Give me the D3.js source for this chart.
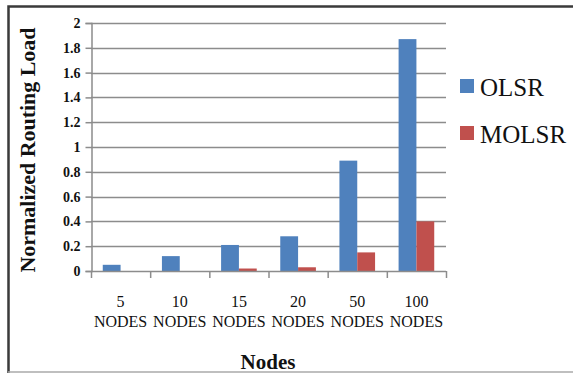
<!DOCTYPE html>
<html>
<head>
<meta charset="utf-8">
<script src="https://cdn.jsdelivr.net/npm/d3@7"></script>
<style>
  html, body { margin: 0; padding: 0; background: #fff; }
  svg { display: block; }
  text { font-family: "Liberation Serif", "Times New Roman", serif; fill: #111; }
</style>
</head>
<body>
<svg id="chart" width="573" height="373"></svg>
<script>
// Normalized routing load per network size
const categories = ["5", "10", "15", "20", "50", "100"];
const seriesNames = ["OLSR", "MOLSR"];
const olsrValues = [0.05, 0.12, 0.21, 0.28, 0.89, 1.87];
const molsrValues = [0, 0, 0.02, 0.03, 0.15, 0.40];
const yTicks = [0, 0.2, 0.4, 0.6, 0.8, 1, 1.2, 1.4, 1.6, 1.8, 2];
const yTickLabels = ["0", "0.2", "0.4", "0.6", "0.8", "1", "1.2", "1.4", "1.6", "1.8", "2"];
const colors = ["#4F81BD", "#C0504D"];

const rows = categories.map((c, i) => ({ cat: c, values: [olsrValues[i], molsrValues[i]] }));

const svg = d3.select("#chart");

// frame
svg.append("path").attr("d", "M8.5,373 V6.5 H573")
  .attr("fill", "none").attr("stroke", "#3a3a3a").attr("stroke-width", 2.5);
svg.append("line").attr("x1", 8).attr("x2", 573).attr("y1", 372).attr("y2", 372)
  .attr("stroke", "#aaa").attr("stroke-width", 1.5);

const plot = { left: 91, right: 446, top: 23, bottom: 271 };

const x = d3.scaleBand().domain(categories).range([plot.left, plot.right]).padding(0);
const xs = d3.scaleBand().domain(seriesNames).range([0, x.bandwidth()])
  .paddingInner(0).paddingOuter(0.66);
const y = d3.scaleLinear().domain([0, 2]).range([plot.bottom, plot.top]);

// gridlines
svg.append("g").selectAll("line").data(yTicks.slice(1)).join("line")
  .attr("x1", plot.left).attr("x2", plot.right)
  .attr("y1", d => Math.round(y(d)) + 0.5).attr("y2", d => Math.round(y(d)) + 0.5)
  .attr("stroke", "#8c8c8c").attr("stroke-width", 1.5);

// bars
const groups = svg.append("g").selectAll("g").data(rows).join("g")
  .attr("transform", d => `translate(${x(d.cat)},0)`);
groups.selectAll("rect").data(d => d.values.map((v, i) => ({ v, s: seriesNames[i], i })))
  .join("rect")
  .attr("x", d => xs(d.s))
  .attr("width", xs.bandwidth())
  .attr("y", d => y(d.v))
  .attr("height", d => y(0) - y(d.v))
  .attr("fill", d => colors[d.i]);

// y axis
const yAxis = d3.axisLeft(y).tickValues(yTicks)
  .tickFormat((d, i) => yTickLabels[i]).tickSize(6).tickPadding(5);
const gy = svg.append("g").attr("transform", `translate(${plot.left + 0.5},0)`).call(yAxis);
gy.select(".domain").attr("stroke", "#8c8c8c").attr("stroke-width", 1.5);
gy.selectAll(".tick line").attr("stroke", "#8c8c8c").attr("stroke-width", 1.5);
gy.selectAll(".tick text").attr("font-size", 14).attr("font-weight", "bold")
  .attr("fill", "#222");

// x axis: boundary ticks between categories
const xBounds = categories.map(c => x(c)).concat([plot.right]);
const gx = svg.append("g");
gx.append("line").attr("x1", plot.left).attr("x2", plot.right)
  .attr("y1", plot.bottom + 0.5).attr("y2", plot.bottom + 0.5)
  .attr("stroke", "#8c8c8c").attr("stroke-width", 1.5);
gx.selectAll("line.tk").data(xBounds).join("line").attr("class", "tk")
  .attr("x1", d => d + 0.5).attr("x2", d => d + 0.5)
  .attr("y1", plot.bottom).attr("y2", plot.bottom + 7)
  .attr("stroke", "#8c8c8c").attr("stroke-width", 1.5);
const lbl = gx.selectAll("text").data(categories).join("text")
  .attr("text-anchor", "middle").attr("font-size", 16);
lbl.append("tspan").attr("x", d => x(d) + x.bandwidth() / 2).attr("y", 307).text(d => d);
lbl.append("tspan").attr("x", d => x(d) + x.bandwidth() / 2).attr("y", 327).text("NODES");

// axis titles
svg.append("text").attr("x", 268).attr("y", 369).attr("text-anchor", "middle")
  .attr("font-size", 21).attr("font-weight", "bold").text("Nodes");
svg.append("text").attr("transform", "translate(35,150) rotate(-90)")
  .attr("text-anchor", "middle").attr("font-size", 22).attr("font-weight", "bold")
  .attr("textLength", 245).attr("lengthAdjust", "spacingAndGlyphs")
  .text("Normalized Routing Load");

// legend
const legend = svg.append("g").selectAll("g").data(seriesNames).join("g")
  .attr("transform", (d, i) => `translate(460,${79 + i * 47})`);
legend.append("rect").attr("width", 14).attr("height", 14).attr("fill", (d, i) => colors[i]);
legend.append("text").attr("x", 20).attr("y", 17).attr("font-size", 25).text(d => d);
</script>
</body>
</html>
